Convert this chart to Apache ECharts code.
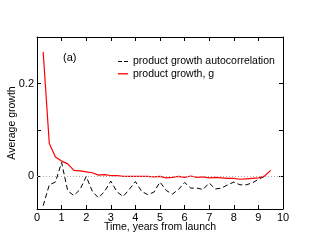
<!DOCTYPE html>
<html><head><meta charset="utf-8">
<script src="https://cdn.jsdelivr.net/npm/echarts@6/dist/echarts.min.js"></script>
<style>html,body{margin:0;padding:0;background:#fff}#c{width:319px;height:247px}</style>
</head><body><div id="c"></div>
<script>
const times = [0.25,0.5,0.75,1,1.25,1.5,1.75,2,2.25,2.5,2.75,3,3.25,3.5,3.75,4,4.25,4.5,4.75,5,5.25,5.5,5.75,6,6.25,6.5,6.75,7,7.25,7.5,7.75,8,8.25,8.5,8.75,9,9.25,9.5];
const growth = [0.268,0.071,0.042,0.033,0.027,0.013,0.012,0.010,0.008,0.003,0.004,0.002,0.002,0.000,0.000,0.000,0.000,0.000,-0.001,0.000,-0.003,-0.002,0.000,-0.002,0.001,-0.002,-0.001,-0.003,-0.002,-0.003,-0.004,-0.004,-0.006,-0.005,-0.004,-0.003,0.001,0.013];
const autocorr = [-0.063,-0.018,-0.012,0.030,-0.031,-0.041,-0.028,0.000,-0.032,-0.046,-0.032,-0.010,-0.033,-0.043,-0.028,-0.011,-0.032,-0.039,-0.034,-0.012,-0.030,-0.038,-0.028,-0.013,-0.025,-0.025,-0.028,-0.014,-0.027,-0.025,-0.018,-0.012,-0.018,-0.018,-0.014,-0.006,0.000];
const xTicks = [0,1,2,3,4,5,6,7,8,9,10];
const yLabels = [0,0.2];
const yTicks = [0,0.1,0.2];
const seriesNames = ['product growth autocorrelation','product growth, g'];

const font = 'Liberation Sans, Arial, sans-serif';
const chart = echarts.init(document.getElementById('c'));
chart.setOption({
  animation:false,
  grid:{left:37,top:37,right:36,bottom:38,outerBoundsMode:'none',containLabel:false},
  title:{text:'(a)',left:58,top:47,textStyle:{fontSize:11,fontWeight:'normal',color:'#000',fontFamily:font}},
  legend:{orient:'vertical',left:113,top:51,itemWidth:10,itemHeight:1.3,itemGap:1.3,
    textStyle:{fontSize:10.5,color:'#000',fontFamily:font},
    data:[{name:seriesNames[0],icon:'path://M0,0h4v1h-4z M6,0h4v1h-4z'},
          {name:seriesNames[1],icon:'rect'}]},
  xAxis:[{type:'value',min:0,max:10,interval:1,position:'bottom',
    name:'Time, years from launch',nameLocation:'middle',nameGap:12.5,nameMoveOverlap:false,
    nameTextStyle:{fontSize:10.5,color:'#000',fontFamily:font,verticalAlign:'top'},
    axisLine:{onZero:false,lineStyle:{color:'#000',width:1}},
    axisTick:{inside:true,length:4,lineStyle:{color:'#000'},customValues:xTicks},
    axisLabel:{fontSize:11,color:'#000',fontFamily:font,margin:3,customValues:xTicks},
    splitLine:{show:false}},
   {type:'value',min:0,max:10,interval:1,position:'top',
    axisLine:{onZero:false,lineStyle:{color:'#000',width:1}},
    axisTick:{inside:true,length:4,lineStyle:{color:'#000'}},
    axisLabel:{show:false},splitLine:{show:false}}],
  yAxis:[{type:'value',min:-0.07,max:0.3,position:'left',
    name:'Average growth',nameLocation:'middle',nameGap:19,nameMoveOverlap:false,
    nameTextStyle:{fontSize:10.5,color:'#000',fontFamily:font},
    axisLine:{onZero:false,lineStyle:{color:'#000',width:1}},
    axisTick:{inside:true,length:4,lineStyle:{color:'#000'},customValues:yTicks},
    axisLabel:{fontSize:11,color:'#000',fontFamily:font,margin:3,customValues:yLabels,
      formatter:v=>String(Math.round(v*10)/10)},
    splitLine:{show:false}},
   {type:'value',min:-0.07,max:0.3,position:'right',
    axisLine:{onZero:false,lineStyle:{color:'#000',width:1}},
    axisTick:{inside:true,length:4,lineStyle:{color:'#000'},customValues:yTicks},
    axisLabel:{show:false},splitLine:{show:false}}],
  series:[
    {name:seriesNames[0],type:'line',data:times.slice(0,autocorr.length).map((t,i)=>[t,autocorr[i]]),
      symbol:'none',lineStyle:{color:'#000',width:1,type:[5,3]},itemStyle:{color:'#000'},
      markLine:{silent:true,symbol:'none',label:{show:false},
        lineStyle:{color:'#aaa',type:[1,2],width:1},data:[{yAxis:0}]}},
    {name:seriesNames[1],type:'line',data:times.map((t,i)=>[t,growth[i]]),
      symbol:'none',lineStyle:{color:'#ff0000',width:1.2},itemStyle:{color:'#ff0000'}}
  ]
});
</script></body></html>
